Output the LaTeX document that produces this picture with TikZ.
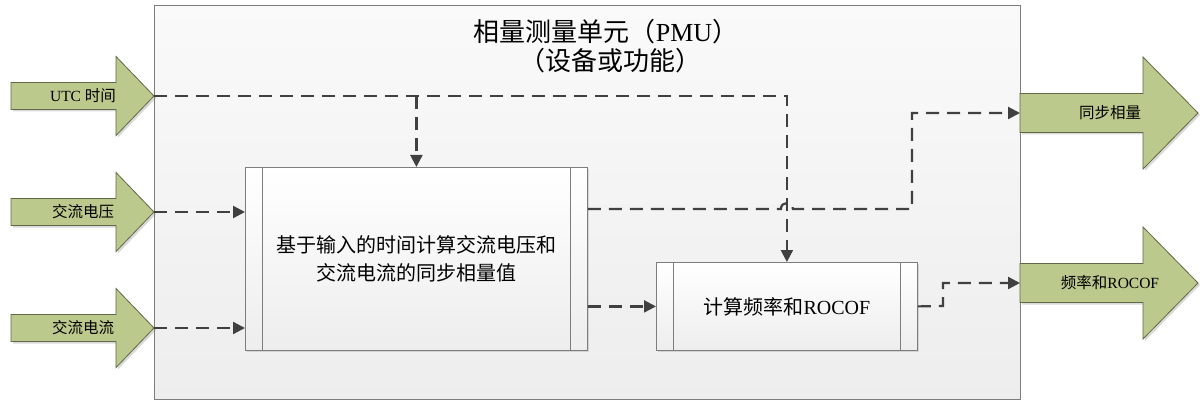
\documentclass[tikz,border=0pt]{standalone}
\usepackage{fontspec}
\setmainfont{Liberation Serif}
\newfontfamily\cjk{Noto Sans CJK SC}
\usetikzlibrary{arrows.meta,shadows,calc}
\definecolor{arrowfill}{RGB}{187,201,140}
\definecolor{arrowedge}{RGB}{95,105,70}
\definecolor{lineclr}{RGB}{64,64,64}
\definecolor{boxedge}{RGB}{125,125,125}
\tikzset{
  bigarrow/.style={fill=arrowfill, draw=arrowedge, line width=0.8pt,
    drop shadow={shadow xshift=2pt, shadow yshift=-2pt, opacity=0.3}},
  conn/.style={draw=lineclr, line width=2.2pt, dash pattern=on 13pt off 8pt,
    -{Triangle[length=12pt,width=12pt]}},
  procbox/.style={draw=boxedge, line width=0.8pt, top color=white, bottom color=white!93!black,
    drop shadow={shadow xshift=2pt, shadow yshift=-2pt, opacity=0.25}, align=center,
    font=\fontsize{20}{28}\selectfont, inner sep=0pt},
  sideline/.style={draw=boxedge, line width=0.8pt},
  lbl/.style={font=\fontsize{15.5}{18}\selectfont, inner sep=0pt},
  title/.style={font=\fontsize{26}{30}\selectfont, inner sep=0pt}
}
\begin{document}
\begin{tikzpicture}[x=1pt,y=-1pt]
\useasboundingbox (0,0) rectangle (1200,401);
% outer PMU box
\node[draw=boxedge, line width=0.8pt, top color=white!98!black, bottom color=white!93!black,
  minimum width=866pt, minimum height=394pt, anchor=north west, inner sep=0pt] (pmu) at (154,5) {};
\node[title] (t1) at (606,32) {\cjk 相量测量单元（\rmfamily PMU\cjk ）};
\node[title] (t2) at (610,61) {\cjk （设备或功能）};

% input arrows
\foreach \cy/\nm/\txt in {96/utcarrow/{UTC {\cjk 时间}}, 212/varrow/{\cjk 交流电压}, 328/iarrow/{\cjk 交流电流}}{
  \path[bigarrow] (11,\cy-13.5) -- (116,\cy-13.5) -- (116,\cy-39.5) -- (154,\cy)
     -- (116,\cy+39.5) -- (116,\cy+13.5) -- (11,\cy+13.5) -- cycle;
  \node[lbl] (\nm) at (83,\cy) {\txt};
}
\coordinate (utc) at (154,96);
\coordinate (vin) at (154,212);
\coordinate (iin) at (154,328);

% output arrows
\foreach \cy/\nm/\txt in {113/syncarrow/{\cjk 同步相量}, 283/freqarrow/{{\cjk 频率和}ROCOF}}{
  \path[bigarrow] (1020,\cy-19.5) -- (1143,\cy-19.5) -- (1143,\cy-56) -- (1198,\cy)
     -- (1143,\cy+56) -- (1143,\cy+19.5) -- (1020,\cy+19.5) -- cycle;
  \node[lbl] (\nm) at (1110,\cy) {\txt};
}
\coordinate (sync) at (1020,113);
\coordinate (freq) at (1020,283);

% process boxes
\node[procbox, minimum width=342pt, minimum height=183pt, anchor=north west] (box1) at (245,167)
  {{\cjk 基于输入的时间计算交流电压和}\\{\cjk 交流电流的同步相量值}};
\draw[sideline] ($(box1.north west)+(17,0)$) -- ($(box1.south west)+(17,0)$);
\draw[sideline] ($(box1.north east)+(-17,0)$) -- ($(box1.south east)+(-17,0)$);

\node[procbox, minimum width=261pt, minimum height=88pt, anchor=north west] (box2) at (656,262)
  {{\cjk 计算频率和}ROCOF};
\draw[sideline] ($(box2.north west)+(17,0)$) -- ($(box2.south west)+(17,0)$);
\draw[sideline] ($(box2.north east)+(-17,0)$) -- ($(box2.south east)+(-17,0)$);

% connectors
\draw[conn] (utc) -| (box2.north);
\draw[conn] (utc -| box1.north) -- (box1.north);
\draw[conn] (vin) -- (vin -| box1.west);
\draw[conn] (iin) -- (iin -| box1.west);
\coordinate (b1out) at ($(box1.north east)+(0,42)$);
\coordinate (hopL) at ($(b1out -| box2.north)+(-6,0)$);
\coordinate (hopR) at ($(b1out -| box2.north)+(6,0)$);
\draw[conn] (b1out) -- (hopL) .. controls ($(hopL)+(0,-8)$) and ($(hopR)+(0,-8)$) .. (hopR)
  -- (912,209) -- (912,113) -- (sync);
\draw[conn] (box1.east |- box2.west) -- (box2.west);
\draw[conn] (box2.east) -- (943,306) -- (943,283) -- (freq);
\end{tikzpicture}
\end{document}
